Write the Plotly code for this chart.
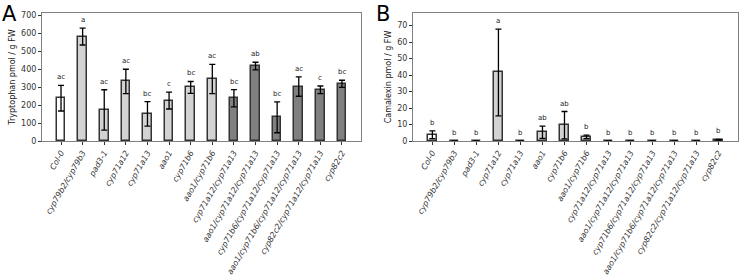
import plotly.graph_objects as go

genotypes = ["Col-0", "cyp79b2/cyp79b3", "pad3-1", "cyp71a12", "cyp71a13", "aao1", "cyp71b6",
             "aao1/cyp71b6", "cyp71a12/cyp71a13", "aao1/cyp71a12/cyp71a13",
             "cyp71b6/cyp71a12/cyp71a13", "aao1/cyp71b6/cyp71a12/cyp71a13",
             "cyp82c2/cyp71a12/cyp71a13", "cyp82c2"]
trp_mean = [238, 581, 173, 331, 151, 225, 298, 345, 238, 417, 132, 303, 285, 318]
trp_err = [71, 47, 112, 68, 68, 47, 33, 81, 48, 21, 86, 54, 21, 20]
trp_letters = ["ac", "a", "ac", "ac", "bc", "c", "bc", "ac", "bc", "ab", "bc", "ac", "c", "bc"]
cam_mean = [3.8, 0.05, 0.05, 41.6, 0.1, 5.3, 9.6, 2.5, 0.05, 0.05, 0.05, 0.05, 0.05, 0.8]
cam_err = [2.3, 0.0, 0.0, 26.3, 0.0, 3.7, 8.3, 1.1, 0.0, 0.0, 0.0, 0.0, 0.0, 0.2]
cam_letters = ["b", "b", "b", "a", "b", "ab", "ab", "b", "b", "b", "b", "b", "b", "b"]
group = ["wt"] + ["single"] * 7 + ["multi"] * 6

group_color = {"wt": "#ffffff", "single": "#d3d3d3", "multi": "#808080"}
colors = [group_color[g] for g in group]
xs = list(range(len(genotypes)))

fig = go.Figure()

def add_panel(mean, err, letters, xa, ya):
    fig.add_trace(go.Bar(
        x=xs, y=mean, width=0.4, xaxis=xa, yaxis=ya,
        marker=dict(color=colors, line=dict(color="#333333", width=1.5)),
        error_y=dict(type="data", array=err, visible=True, color="#000000", thickness=1.3, width=3),
        showlegend=False))
    for i, (m, e, t) in enumerate(zip(mean, err, letters)):
        fig.add_annotation(x=xs[i], y=m + e, text=t, xref=xa, yref=ya,
                           showarrow=False, yanchor="bottom", yshift=2,
                           font=dict(size=7, color="#222222", family="DejaVu Sans"))

add_panel(trp_mean, trp_err, trp_letters, "x", "y")
add_panel(cam_mean, cam_err, cam_letters, "x2", "y2")

axis_common = dict(showline=True, linecolor="#808080", linewidth=1, mirror=True,
                   ticks="outside", ticklen=3, tickcolor="#333333", showgrid=False, zeroline=False,
                   automargin=False)
xcommon = dict(axis_common, tickmode="array", tickvals=xs, ticktext=genotypes, tickangle=-60,
               range=[-0.88, 13.88],
               tickfont=dict(size=8, family="DejaVu Sans", color="#333333", style="italic"))
ydom = [(275 - 141) / 275, (275 - 13) / 275]

fig.update_layout(
    width=741, height=275, margin=dict(l=0, r=0, t=0, b=0),
    paper_bgcolor="white", plot_bgcolor="white",
    bargap=0,
    xaxis=dict(xcommon, domain=[42 / 741, 361 / 741], anchor="y"),
    yaxis=dict(axis_common, domain=ydom, range=[0, 712], tickvals=[0, 100, 200, 300, 400, 500, 600, 700],
               tickfont=dict(size=8, family="DejaVu Sans", color="#333333"),
               title=dict(text="Tryptophan pmol / g FW", font=dict(size=8, family="DejaVu Sans", color="#222222"), standoff=4),
               anchor="x"),
    xaxis2=dict(xcommon, domain=[413 / 741, 738 / 741], anchor="y2"),
    yaxis2=dict(axis_common, domain=ydom, range=[0, 77.7], tickvals=[0, 10, 20, 30, 40, 50, 60, 70],
                tickfont=dict(size=8, family="DejaVu Sans", color="#333333"),
                title=dict(text="Camalexin pmol / g FW", font=dict(size=8, family="DejaVu Sans", color="#222222"), standoff=4),
                anchor="x2"),
)

fig.add_annotation(x=0, y=1, xref="paper", yref="paper", text="A", showarrow=False,
                   xanchor="left", yanchor="top", yshift=0,
                   font=dict(size=21, family="DejaVu Sans", color="#000000"))
fig.add_annotation(x=374 / 741, y=1, xref="paper", yref="paper", text="B", showarrow=False,
                   xanchor="left", yanchor="top", yshift=0,
                   font=dict(size=21, family="DejaVu Sans", color="#000000"))

fig.write_html("out.html")
